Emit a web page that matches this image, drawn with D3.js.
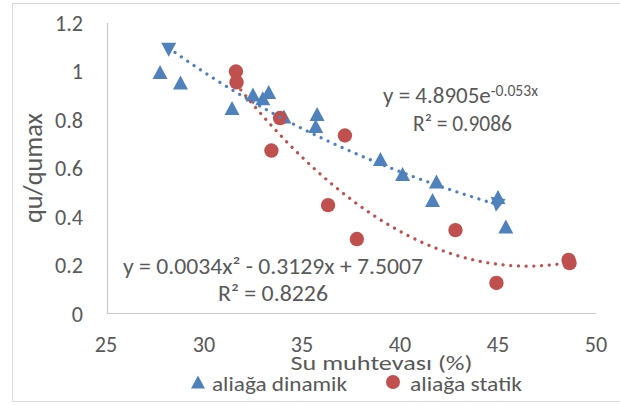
<!DOCTYPE html>
<html>
<head>
<meta charset="utf-8">
<script src="https://cdn.jsdelivr.net/npm/d3@7"></script>
<style>
  html, body { margin: 0; padding: 0; background: #fff; }
  svg { display: block; }
  text { font-family: Carlito, Calibri, Lato, sans-serif; fill: #595959; }
</style>
</head>
<body>
<svg id="chart" width="620" height="405"></svg>
<script>
// ---- data ----
const xTicks = [25, 30, 35, 40, 45, 50];
const yTicks = [0, 0.2, 0.4, 0.6, 0.8, 1, 1.2];
const yTickLabels = ["0", "0.2", "0.4", "0.6", "0.8", "1", "1.2"];

const dinamikX = [28.2, 27.76, 28.8, 31.43, 32.5, 33.0, 33.3, 34.08, 35.77, 35.7, 39.0, 40.13, 41.86, 41.66, 45.0, 44.95, 45.4];
const dinamikY = [1.09, 0.998, 0.955, 0.849, 0.905, 0.89, 0.915, 0.814, 0.825, 0.775, 0.639, 0.577, 0.546, 0.47, 0.482, 0.45, 0.361];
const dinamikMarkerRotation = [180, 0, 0, 0, 0, 0, 0, 0, 0, 0, 0, 0, 0, 0, 0, 190, 0];

const statikX = [31.63, 31.66, 33.88, 33.44, 37.19, 36.33, 37.8, 42.83, 48.6, 48.65, 44.92];
const statikY = [1.0, 0.955, 0.808, 0.674, 0.736, 0.449, 0.309, 0.346, 0.223, 0.21, 0.128];

const seriesNames = ["aliağa dinamik", "aliağa statik"];
// trendline: y = a * exp(b x)
const expCoef = [4.8905, -0.053];
const expRange = [28.2, 45.0];
// trendline: y = a x^2 + b x + c (as drawn)
const polyCoef = [0.0034, -0.3162, 7.549];
const polyRange = [31.63, 48.6];
const expLabel = ["y = 4.8905e", "-0.053x", "R² = 0.9086"];
const polyLabel = ["y = 0.0034x² - 0.3129x + 7.5007", "R² = 0.8226"];
const xTitle = "Su muhtevası (%)";
const yTitle = "qu/qumax";

// ---- drawing ----
const BLUE = "#4F81BD", RED = "#C0504D";
const svg = d3.select("#chart");

svg.append("rect").attr("x", 12.5).attr("y", 3.5).attr("width", 620).attr("height", 398)
  .attr("fill", "#fff").attr("stroke", "#d9d9d9").attr("stroke-width", 1);

const x = d3.scaleLinear().domain([25, 50]).range([106, 596]);
const y = d3.scaleLinear().domain([0, 1.2]).range([314, 23]);

// fit a text element's font size so that its width matches a target width
function fit(sel, target) {
  sel.attr("font-size", 20);
  const w = sel.node().getComputedTextLength();
  const fs = 20 * target / w;
  sel.attr("font-size", fs);
  return fs;
}

// axes lines
svg.append("line").attr("x1", x(25) + 1.5).attr("x2", x(25) + 1.5).attr("y1", y(1.2)).attr("y2", y(0))
  .attr("stroke", "#c8c8c8").attr("stroke-width", 1.2);
svg.append("line").attr("x1", x(25) + 1).attr("x2", x(50)).attr("y1", y(0) - 0.5).attr("y2", y(0) - 0.5)
  .attr("stroke", "#c8c8c8").attr("stroke-width", 1.2);

// tick labels
const probe = svg.append("text").text("1.2");
const tickFS = fit(probe, 28);
probe.remove();
svg.append("g").selectAll("text").data(yTicks).join("text")
  .attr("x", 83).attr("y", d => y(d)).attr("dy", "0.36em")
  .attr("text-anchor", "end").attr("font-size", tickFS)
  .text((d, i) => yTickLabels[i]);
svg.append("g").selectAll("text").data(xTicks).join("text")
  .attr("x", d => x(d)).attr("y", 344.5).attr("dy", "0.36em")
  .attr("text-anchor", "middle").attr("font-size", tickFS)
  .text(d => d);

// titles
svg.append("text").attr("x", 381.5).attr("y", 369.5).attr("text-anchor", "middle")
  .attr("font-size", 21).attr("textLength", 182).attr("lengthAdjust", "spacingAndGlyphs").text(xTitle);
fit(svg.append("text").attr("transform", "translate(33,168) rotate(-90)").attr("dy", "0.36em")
  .attr("text-anchor", "middle").text(yTitle), 110);

// markers
function triPath(w, h) {
  return `M0,${-h / 2}L${w / 2},${h / 2}L${-w / 2},${h / 2}Z`;
}
const blueData = dinamikX.map((v, i) => ({ x: v, y: dinamikY[i], r: dinamikMarkerRotation[i] }));
const redData = statikX.map((v, i) => ({ x: v, y: statikY[i] }));

svg.append("g").selectAll("path").data(blueData).join("path")
  .attr("d", triPath(15, 14))
  .attr("transform", d => `translate(${x(d.x)},${y(d.y)}) rotate(${d.r})`)
  .attr("fill", BLUE);
svg.append("g").selectAll("circle").data(redData).join("circle")
  .attr("cx", d => x(d.x)).attr("cy", d => y(d.y)).attr("r", 7.2)
  .attr("fill", RED);

// trendlines
const line = d3.line().x(d => x(d[0])).y(d => y(d[1]));
const expPts = d3.range(expRange[0], expRange[1] + 0.001, 0.05).map(v => [v, expCoef[0] * Math.exp(expCoef[1] * v)]);
const polyPts = d3.range(polyRange[0], polyRange[1] + 0.001, 0.05).map(v => [v, polyCoef[0] * v * v + polyCoef[1] * v + polyCoef[2]]);
svg.append("path").attr("d", line(expPts)).attr("fill", "none").attr("stroke", BLUE)
  .attr("stroke-width", 3.2).attr("stroke-linecap", "round").attr("stroke-dasharray", "0.1 7.6");
svg.append("path").attr("d", line(polyPts)).attr("fill", "none").attr("stroke", RED)
  .attr("stroke-width", 3.2).attr("stroke-linecap", "round").attr("stroke-dasharray", "0.1 7.6");

// equation labels
const eq1 = svg.append("text").attr("x", 460.5).attr("y", 103).attr("text-anchor", "middle");
eq1.append("tspan").text(expLabel[0]);
eq1.append("tspan").attr("dy", "-0.45em").attr("font-size", "0.68em").text(expLabel[1]);
fit(eq1, 155);
fit(svg.append("text").attr("x", 462.5).attr("y", 131).attr("text-anchor", "middle").text(expLabel[2]), 99);

svg.append("text").attr("x", 273).attr("y", 273.5).attr("text-anchor", "middle")
  .attr("font-size", 22).attr("textLength", 300).attr("lengthAdjust", "spacingAndGlyphs").text(polyLabel[0]);
svg.append("text").attr("x", 273).attr("y", 300.5).attr("text-anchor", "middle")
  .attr("font-size", 22).attr("textLength", 110).attr("lengthAdjust", "spacingAndGlyphs").text(polyLabel[1]);

// legend
const lg = svg.append("g");
lg.append("path").attr("d", triPath(14, 13)).attr("transform", "translate(198,382)").attr("fill", BLUE);
lg.append("text").attr("x", 212).attr("y", 391).attr("font-size", 21)
  .attr("textLength", 135).attr("lengthAdjust", "spacingAndGlyphs").text(seriesNames[0]);
lg.append("circle").attr("cx", 393).attr("cy", 382).attr("r", 7).attr("fill", RED);
lg.append("text").attr("x", 410).attr("y", 391).attr("font-size", 21)
  .attr("textLength", 112).attr("lengthAdjust", "spacingAndGlyphs").text(seriesNames[1]);
</script>
</body>
</html>
